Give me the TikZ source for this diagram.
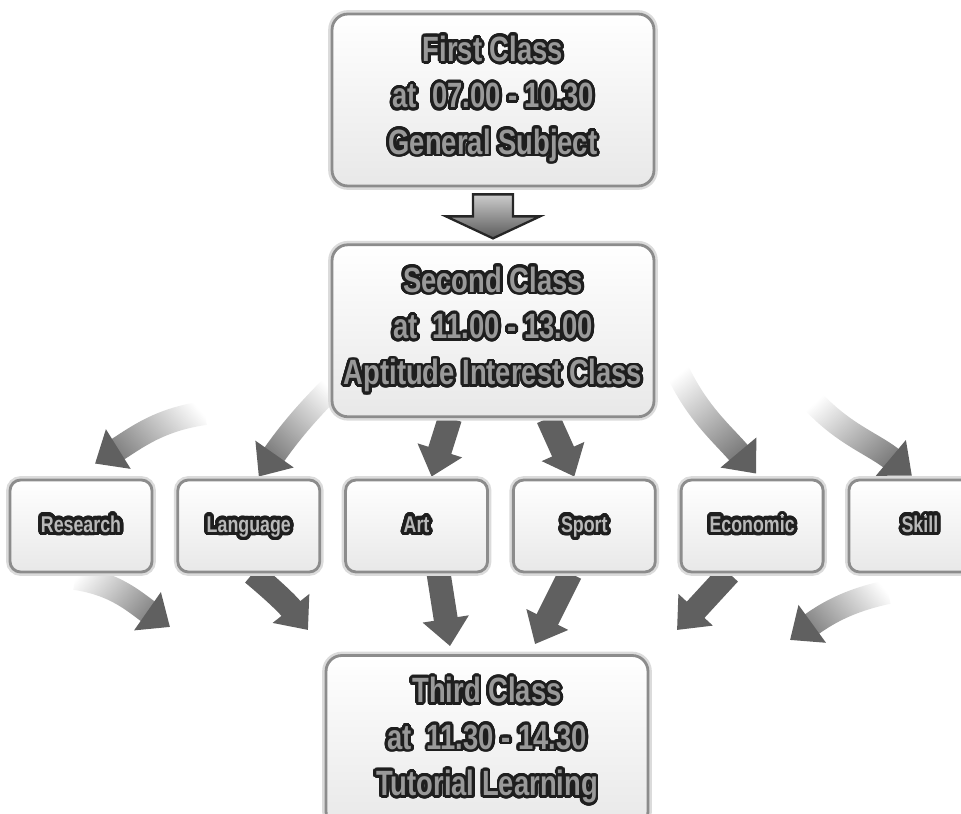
\documentclass[tikz,border=0pt]{standalone}
\usepackage{fontspec}
\usepackage{contour}
\usetikzlibrary{positioning, arrows.meta, fadings, backgrounds}

\newfontfamily\classfont{Liberation Sans}[FakeStretch=0.78]
\definecolor{arrowgray}{RGB}{96,96,96}
\definecolor{textdark}{RGB}{30,30,30}
\contournumber{32}
\newcommand\outlined[1]{\contour{textdark}{#1}}

\tikzfading[name=tailfade, left color=transparent!100, middle color=transparent!0, right color=transparent!0]

\tikzset{
  classbox/.style={draw=gray!90, line width=1.6pt, rounded corners=9pt,
    top color=white, bottom color=gray!18,
    minimum width=6.44cm, minimum height=3.44cm, align=center, text=gray!80,
    font=\classfont\bfseries\fontsize{20}{26.4}\selectfont\contourlength{1.6pt},
    preaction={draw=gray!28, line width=4.4pt}},
  smallbox/.style={classbox, rounded corners=6pt, minimum width=2.84cm, minimum height=1.84cm,
    text height=10pt, text depth=3pt, text=gray!55,
    font=\classfont\bfseries\fontsize{13}{14}\selectfont\contourlength{2pt}},
  downarrow/.style={draw=black!85, line width=1.3pt, top color=gray!40, bottom color=black!65},
  bigarrow/.style={draw=arrowgray, line width=0.48cm, -{Triangle[width=0.9cm,length=0.55cm]}},
  fadeshaft/.style={draw=arrowgray, line width=0.48cm, shorten >=0.45cm,
    path fading=tailfade, fading angle=#1}
}

\begin{document}
\begin{tikzpicture}[x=0.02cm, y=0.02cm]
  \useasboundingbox (0,0) rectangle (961,-814);

  % the three class blocks
  \node (first) [classbox] at (493,-100) {\outlined{First Class}\\\outlined{at\ \ 07.00 - 10.30}\\\outlined{General Subject}};
  \node (second) [classbox, below=1.12cm of first] {\outlined{Second Class}\\\outlined{at\ \ 11.00 - 13.00}\\\outlined{Aptitude Interest Class}};
  \node (third) [classbox, below=4.72cm of second, xshift=-0.12cm] {\outlined{Third Class}\\\outlined{at\ \ 11.30 - 14.30}\\\outlined{Tutorial Learning}};

  % interest classes in one row
  \node (research) [smallbox] at (81,-526) {\outlined{Research}};
  \node (language) [smallbox, right=0.46cm of research] {\outlined{Language}};
  \node (art) [smallbox, right=0.46cm of language] {\outlined{Art}};
  \node (sport) [smallbox, right=0.46cm of art] {\outlined{Sport}};
  \node (economic) [smallbox, right=0.46cm of sport] {\outlined{Economic}};
  \node (skill) [smallbox, right=0.46cm of economic] {\outlined{Skill}};

  % block arrow between first and second class
  \draw [downarrow] ([shift={(-20,-7)}]first.south) -- ([shift={(20,-7)}]first.south)
    -- ([shift={(20,-29)}]first.south) -- ([shift={(47,-29)}]first.south)
    -- ([shift={(0,5)}]second.north) -- ([shift={(-47,-29)}]first.south)
    -- ([shift={(-20,-29)}]first.south) -- cycle;

  \begin{scope}[on background layer]
    % loose ends of the curved arrows
    \coordinate (tailR) at (205,-413);
    \coordinate (tailL) at (334,-385);
    \coordinate (tailE) at (676,-368);
    \coordinate (tailS) at (810,-398);
    \coordinate (tailR2) at (75,-578);
    \coordinate (tailS2) at (888,-592);
    \coordinate (headR) at (170,-627);
    \coordinate (headL) at (308,-630);
    \coordinate (headE) at (677,-630);
    \coordinate (headS) at (790,-640);
    \coordinate (tipR) at ([shift={(14,15)}]research.north);
    \coordinate (tipL) at ([shift={(10,2)}]language.north);
    \coordinate (tipE) at ([shift={(4,5)}]economic.north);
    \coordinate (tipS) at ([shift={(-8,3)}]skill.north);

    % into the interest classes
    \draw [fadeshaft=206] (tailR) to[out=188, in=32] (tipR);
    \draw [bigarrow] ([shift={(32:26)}]tipR) -- (tipR);
    \draw [fadeshaft=230] (tailL) to[out=225, in=55] (tipL);
    \draw [bigarrow] ([shift={(55:26)}]tipL) -- (tipL);
    \draw [bigarrow] ([shift={(-43,0)}]second.south) -- ([shift={(15,2)}]art.north);
    \draw [bigarrow] ([shift={(55,0)}]second.south) -- ([shift={(-10,2)}]sport.north);
    \draw [fadeshaft=303] (tailE) to[out=295, in=130] (tipE);
    \draw [bigarrow] ([shift={(130:26)}]tipE) -- (tipE);
    \draw [fadeshaft=318] (tailS) to[out=312, in=140] (tipS);
    \draw [bigarrow] ([shift={(140:26)}]tipS) -- (tipS);

    % into the third class
    \draw [fadeshaft=333] (tailR2) to[out=352, in=145] (headR);
    \draw [bigarrow] ([shift={(145:26)}]headR) -- (headR);
    \draw [bigarrow] ([shift={(4,0)}]language.south) to[bend left=6] (headL);
    \draw [bigarrow] ([shift={(22,0)}]art.south) -- ([shift={(-37,8)}]third.north);
    \draw [bigarrow] ([shift={(-14,0)}]sport.south) -- ([shift={(48,10)}]third.north);
    \draw [bigarrow] ([shift={(-23,0)}]economic.south) -- (headE);
    \draw [fadeshaft=206] (tailS2) to[out=192, in=36] (headS);
    \draw [bigarrow] ([shift={(36:26)}]headS) -- (headS);
  \end{scope}
\end{tikzpicture}
\end{document}
